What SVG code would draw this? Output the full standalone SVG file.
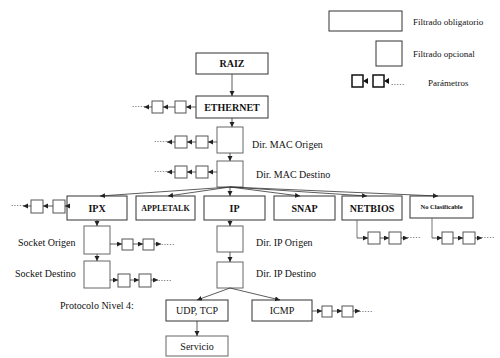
<svg xmlns="http://www.w3.org/2000/svg" width="500" height="358" viewBox="0 0 500 358">
<defs>
<marker id="ah" markerUnits="userSpaceOnUse" markerWidth="6" markerHeight="6" refX="5" refY="2.5" orient="auto"><path d="M0,0 L5,2.5 L0,5 z" fill="#222"/></marker>
<style>
.box{fill:#fff;stroke:#333;stroke-width:1}
.sq{fill:#fff;stroke:#666;stroke-width:1}
.ps{fill:#fff;stroke:#555;stroke-width:1}
.c{fill:none;stroke:#333;stroke-width:0.8;marker-end:url(#ah)}
.l{fill:none;stroke:#555;stroke-width:0.8}
text{font-family:"Liberation Serif","DejaVu Serif","Times New Roman",serif;fill:#111}
.b{font-weight:bold;font-size:10px;text-anchor:middle}
.t{font-size:10px}
.s{font-size:9px}
.d{font-size:9px;letter-spacing:0.5px}
</style>
</defs>
<rect width="500" height="358" fill="#fff"/>
<g id="legend">
<rect class="box" x="329" y="11" width="73" height="20"/>
<text class="s" x="413" y="25">Filtrado obligatorio</text>
<rect class="box" x="376" y="41" width="26" height="25"/>
<text class="s" x="413" y="57">Filtrado opcional</text>
<rect x="352" y="75" width="11" height="12" fill="#fff" stroke="#111" stroke-width="1.5"/>
<rect x="373" y="75" width="11" height="12" fill="#fff" stroke="#111" stroke-width="1.5"/>
<path d="M363,81 L368,78 L368,84 z M384,81 L389,78 L389,84 z" fill="#111"/>
<text class="d" x="391" y="85">.....</text>
<text class="s" x="428" y="86">Parámetros</text>
</g>
<g id="raiz"><rect class="box" x="196" y="53" width="72" height="21"/><text class="b" x="232" y="67">RAIZ</text></g>
<g id="ethernet"><rect class="box" x="196" y="96" width="72" height="22"/><text class="b" x="232" y="111">ETHERNET</text></g>
<g id="mac-origen"><rect class="sq" x="217" y="127" width="26" height="26"/><text class="t" x="252" y="148">Dir. MAC Origen</text></g>
<g id="mac-destino"><rect class="sq" x="217" y="161" width="26" height="26"/><text class="t" x="256" y="178">Dir. MAC Destino</text></g>
<g id="ipx"><rect class="box" x="67" y="196" width="60" height="24"/><text class="b" x="97" y="212">IPX</text></g>
<g id="appletalk"><rect class="box" x="136" y="196" width="59" height="24"/><text class="b" x="165.5" y="211" style="font-size:8px">APPLETALK</text></g>
<g id="ip"><rect class="box" x="204" y="196" width="61" height="24"/><text class="b" x="234.5" y="212">IP</text></g>
<g id="snap"><rect class="box" x="274" y="196" width="61" height="24"/><text class="b" x="304.5" y="212">SNAP</text></g>
<g id="netbios"><rect class="box" x="342" y="196" width="60" height="24"/><text class="b" x="372" y="212">NETBIOS</text></g>
<g id="noclas"><rect class="box" x="410" y="196" width="63" height="22"/><text class="b" x="441.5" y="209" style="font-size:6.5px">No Clasificable</text></g>
<g id="socket-origen"><rect class="sq" x="84" y="226" width="26" height="28"/><text class="t" x="18" y="246">Socket Origen</text></g>
<g id="socket-destino"><rect class="sq" x="84" y="261" width="26" height="27"/><text class="t" x="15" y="277">Socket Destino</text></g>
<g id="ip-origen"><rect class="sq" x="217" y="226" width="26" height="26"/><text class="t" x="256" y="246">Dir. IP Origen</text></g>
<g id="ip-destino"><rect class="sq" x="217" y="262" width="26" height="26"/><text class="t" x="256" y="277">Dir. IP Destino</text></g>
<g id="nivel4-label"><text class="t" x="60" y="309">Protocolo Nivel 4:</text></g>
<g id="udptcp"><rect class="box" x="166" y="300" width="62" height="21"/><text class="t" x="197" y="314" text-anchor="middle">UDP, TCP</text></g>
<g id="icmp"><rect class="box" x="252" y="300" width="60" height="21"/><text class="t" x="282" y="314" text-anchor="middle">ICMP</text></g>
<g id="servicio"><rect class="sq" x="166" y="336" width="62" height="20"/><text class="t" x="197" y="350" text-anchor="middle">Servicio</text></g>
<g id="params">
<rect class="ps" x="175" y="101" width="11" height="12"/><rect class="ps" x="152" y="101" width="11" height="12"/>
<rect class="ps" x="196" y="136" width="12" height="12"/><rect class="ps" x="175" y="136" width="12" height="12"/>
<rect class="ps" x="196" y="166" width="12" height="12"/><rect class="ps" x="175" y="166" width="12" height="12"/>
<rect class="ps" x="53" y="200" width="12" height="13"/><rect class="ps" x="31" y="200" width="12" height="13"/>
<rect class="ps" x="122" y="239" width="11" height="11"/><rect class="ps" x="143" y="239" width="11" height="11"/>
<rect class="ps" x="118" y="274" width="12" height="13"/><rect class="ps" x="139" y="274" width="12" height="13"/>
<rect class="ps" x="368" y="232" width="12" height="12"/><rect class="ps" x="389" y="232" width="12" height="12"/>
<rect class="ps" x="442" y="232" width="11" height="12"/><rect class="ps" x="463" y="232" width="12" height="12"/>
<rect class="ps" x="322" y="306" width="10" height="11"/><rect class="ps" x="342" y="306" width="11" height="11"/>
<text class="d" x="132" y="107">.....</text>
<text class="d" x="154" y="142">.....</text>
<text class="d" x="154" y="172">.....</text>
<text class="d" x="11" y="206">.....</text>
<text class="d" x="161" y="245">.....</text>
<text class="d" x="158" y="281">.....</text>
<text class="d" x="407" y="238">.....</text>
<text class="d" x="481" y="238">.....</text>
<text class="d" x="359" y="312">.....</text>
</g>
<g id="connectors">
<path class="c" d="M232,74 L232,96"/>
<path class="c" d="M232,118 L232,127"/>
<path class="c" d="M230,153 L230,161"/>
<path class="c" d="M230,187 L100,196"/>
<path class="c" d="M230,187 L168,196"/>
<path class="c" d="M230,187 L230,196"/>
<path class="c" d="M230,187 L300,196"/>
<path class="c" d="M230,187 L367,196"/>
<path class="c" d="M230,187 L438,196"/>
<path class="c" d="M97,220 L97,226"/>
<path class="c" d="M97,254 L97,261"/>
<path class="c" d="M230,220 L230,226"/>
<path class="c" d="M230,252 L230,262"/>
<path class="c" d="M230,288 L197,300"/>
<path class="c" d="M230,288 L280,300"/>
<path class="c" d="M197,321 L197,336"/>
<path class="c" d="M196,107 L186,107"/><path class="c" d="M175,107 L163,107"/><path class="c" d="M152,107 L144,107"/>
<path class="c" d="M217,142 L208,142"/><path class="c" d="M196,142 L187,142"/><path class="c" d="M175,142 L167,142"/>
<path class="c" d="M217,172 L208,172"/><path class="c" d="M196,172 L187,172"/><path class="c" d="M175,172 L167,172"/>
<path class="c" d="M67,206 L65,206"/><path class="c" d="M53,206 L43,206"/><path class="c" d="M31,206 L23,206"/>
<path class="c" d="M110,244 L122,244"/><path class="c" d="M133,244 L143,244"/><path class="c" d="M154,244 L161,244"/>
<path class="c" d="M110,280 L118,280"/><path class="c" d="M130,280 L139,280"/><path class="c" d="M151,280 L158,280"/>
<path class="l" d="M357,220 L357,238"/><path class="c" d="M357,238 L368,238"/><path class="c" d="M380,238 L389,238"/><path class="c" d="M401,238 L408,238"/>
<path class="l" d="M432,218 L432,238"/><path class="c" d="M432,238 L442,238"/><path class="c" d="M453,238 L463,238"/><path class="c" d="M475,238 L482,238"/>
<path class="c" d="M312,311 L322,311"/><path class="c" d="M332,311 L342,311"/><path class="c" d="M353,311 L360,311"/>
</g>
</svg>
